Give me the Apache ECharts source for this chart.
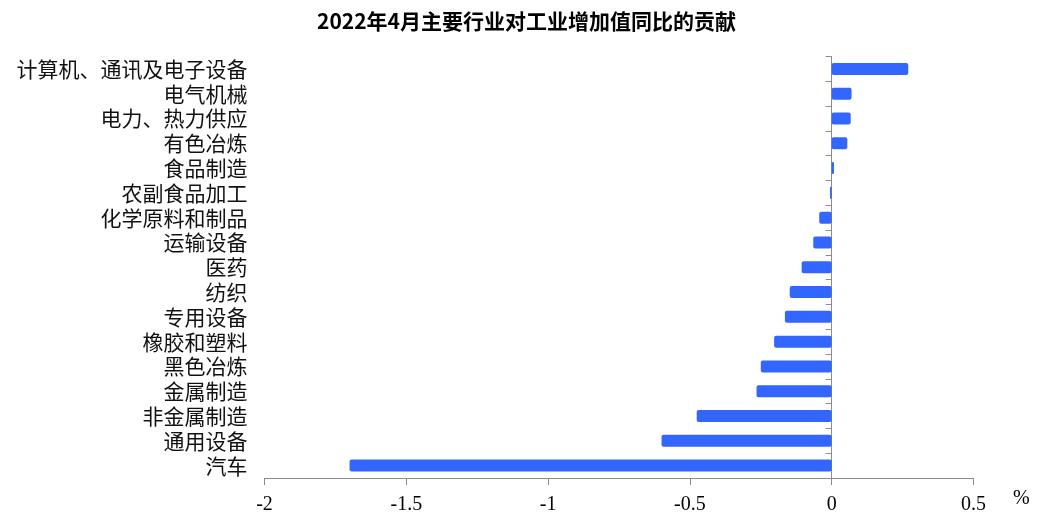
<!DOCTYPE html>
<html>
<head>
<meta charset="utf-8">
<script src="https://cdn.jsdelivr.net/npm/echarts@6/dist/echarts.min.js"></script>
<style>
  html, body { margin: 0; padding: 0; background: #fff; }
  #chart { width: 1053px; height: 518px; }
</style>
</head>
<body>
<div id="chart"></div>
<script>
// Industries, top to bottom
const industries = [
  '计算机、通讯及电子设备', '电气机械', '电力、热力供应', '有色冶炼', '食品制造',
  '农副食品加工', '化学原料和制品', '运输设备', '医药', '纺织', '专用设备',
  '橡胶和塑料', '黑色冶炼', '金属制造', '非金属制造', '通用设备', '汽车'
];
// Contribution to year-on-year industrial value-added growth, percentage points
const contribution = [
  0.27, 0.07, 0.067, 0.055, 0.008,
  -0.006, -0.044, -0.065, -0.106, -0.148, -0.165,
  -0.203, -0.25, -0.265, -0.476, -0.60, -1.70
];
const xTicks = { min: -2, max: 0.5, step: 0.5 };

const chart = echarts.init(document.getElementById('chart'));
const serifNum = '"Liberation Serif", "Times New Roman", serif';
const cjk = '"Noto Sans CJK SC", sans-serif';

chart.setOption({
  animation: false,
  title: {
    text: '2022年4月主要行业对工业增加值同比的贡献',
    left: 'center',
    top: 6,
    textStyle: { fontFamily: cjk, fontSize: 21, fontWeight: 'bold', color: '#000' }
  },
  grid: { left: 264.5, right: 79.5, top: 56.5, bottom: 40 },
  xAxis: {
    type: 'value',
    min: xTicks.min,
    max: xTicks.max,
    interval: xTicks.step,
    splitLine: { show: false },
    axisLine: { show: true, lineStyle: { color: '#8c8c8c', width: 1 } },
    axisTick: { show: true, length: 7, lineStyle: { color: '#8c8c8c' } },
    axisLabel: {
      margin: 17,
      fontFamily: serifNum, fontSize: 20, color: '#000'
    }
  },
  yAxis: [
    {
      type: 'category',
      data: industries,
      inverse: true,
      position: 'left',
      axisLine: { show: false, onZero: false },
      axisTick: { show: false },
      axisLabel: { interval: 0, margin: 17, fontFamily: cjk, fontSize: 21, color: '#111' }
    },
    {
      // the axis line and its ticks sit on x = 0, ticks pointing left
      type: 'category',
      data: industries,
      inverse: true,
      axisLine: { show: true, onZero: true, lineStyle: { color: '#8c8c8c', width: 1 } },
      axisTick: { show: true, interval: 0, inside: true, length: 6, lineStyle: { color: '#8c8c8c' } },
      axisLabel: { show: false }
    }
  ],
  graphic: [
    {
      type: 'text',
      left: 1013,
      top: 489,
      style: { text: '%', fontFamily: serifNum, fontSize: 20, fill: '#000' }
    }
  ],
  series: [
    {
      type: 'bar',
      yAxisIndex: 0,
      data: contribution,
      barWidth: 12,
      itemStyle: { color: '#3366ff', borderRadius: 2 }
    }
  ]
});
</script>
</body>
</html>
